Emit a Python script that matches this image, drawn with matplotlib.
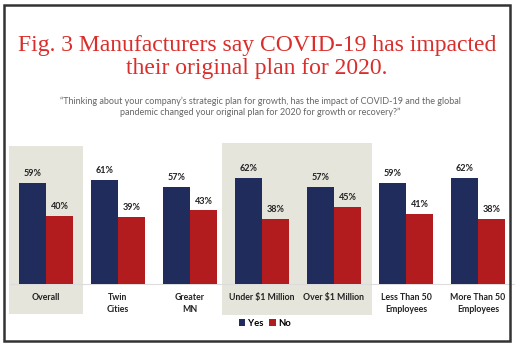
import matplotlib
matplotlib.use("Agg")
from matplotlib import pyplot as plt
from matplotlib.patches import Rectangle
import numpy as np

# Chart data
categories = ["Overall", "Twin\nCities", "Greater\nMN", "Under $1 Million",
              "Over $1 Million", "Less Than 50\nEmployees", "More Than 50\nEmployees"]
yes_values = [59, 61, 57, 62, 57, 59, 62]
no_values = [40, 39, 43, 38, 45, 41, 38]
series_names = ["Yes", "No"]

title = "Fig. 3 Manufacturers say COVID-19 has impacted\ntheir original plan for 2020."
subtitle = ("\u201cThinking about your company\u2019s strategic plan for growth, has the impact of COVID-19 and the global\n"
            "pandemic changed your original plan for 2020 for growth or recovery?\u201d")

navy = "#1f2c5c"
red = "#b21c1f"
shade = "#e6e5dc"
label_font = "Lato"

W, H = 515, 350
fig = plt.figure(figsize=(W / 100, H / 100), dpi=100)
fig.patch.set_facecolor("white")

# axes cover the whole figure; 1 unit in x = one group (72 px), y in percent
px_per_pct = 1.71
x0_px, base_px = 46, 284
ax = fig.add_axes([0, 0, 1, 1])
ax.set_xlim(-x0_px / 72, (W - x0_px) / 72)
ax.set_ylim(-(H - base_px) / px_per_pct, base_px / px_per_pct)
ax.axis("off")

x = np.arange(len(categories))
w = 0.375

# shaded highlight panels behind Overall and revenue groups
ax.add_patch(Rectangle((-0.515, -17.5), 1.03, 98.2, facecolor=shade, edgecolor="none", zorder=0))
ax.add_patch(Rectangle((x[3] - 0.56, -18), x[4] - x[3] + 1.09, 100.5, facecolor=shade, edgecolor="none", zorder=0))

ax.plot([x[0] - 0.5, x[-1] + 0.5], [0, 0], color="#dcdcdc", lw=0.8, zorder=1)

bars_yes = ax.bar(x - w / 2, yes_values, w, color=navy, label=series_names[0], zorder=2)
bars_no = ax.bar(x + w / 2, no_values, w, color=red, label=series_names[1], zorder=2)

for bars in (bars_yes, bars_no):
    for b in bars:
        ax.annotate(f"{b.get_height():.0f}%", (b.get_x() + b.get_width() / 2, b.get_height()),
                    xytext=(0, 3.5), textcoords="offset points", ha="center", va="bottom",
                    fontsize=6.5, fontweight="bold", family=label_font, color="#222222")

for xi, cat in zip(x, categories):
    ax.text(xi, -5.0, cat, ha="center", va="top", fontsize=6.3, fontweight="bold",
            family=label_font, color="#222222", linespacing=1.45)

leg = ax.legend(loc="center", bbox_to_anchor=(265 / W, 1 - 323 / H), ncol=2, frameon=False,
                handlelength=0.7, handleheight=0.7, handletextpad=0.3, columnspacing=0.6,
                prop={"family": label_font, "weight": "bold", "size": 6.8})

fig.text(257 / W, 1 - 57 / H, title, ha="center", va="center", fontsize=17,
         family="Liberation Serif", color="#d92e2b", linespacing=1.12)
fig.text(260 / W, 1 - 107 / H, subtitle, ha="center", va="center", fontsize=6.5,
         family=label_font, color="#666666", linespacing=1.25)

# frame around the figure
fig.patches.append(Rectangle((4 / W, 1 - 341 / H), 506 / W, 336 / H, transform=fig.transFigure,
                             fill=False, edgecolor="#333333", lw=1.8))

plt.savefig("out.png", dpi=100)
